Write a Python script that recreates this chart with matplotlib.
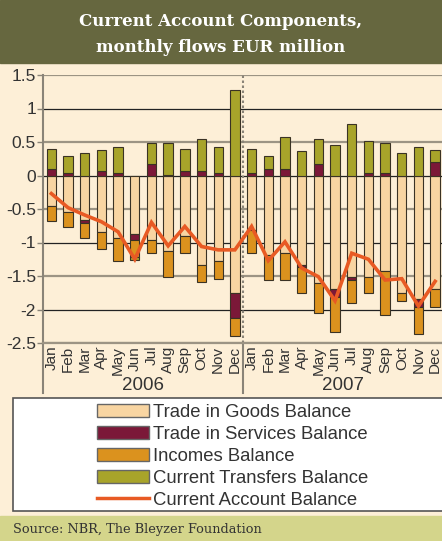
import numpy as np
import matplotlib
matplotlib.use('Agg')
import matplotlib.pyplot as plt
from matplotlib.patches import Rectangle, Patch
from matplotlib.lines import Line2D
import matplotlib.transforms as mtransforms

plt.rcParams['font.family'] = ['Liberation Sans', 'DejaVu Sans']

months = ['Jan', 'Feb', 'Mar', 'Apr', 'May', 'Jun',
          'Jul', 'Aug', 'Sep', 'Oct', 'Nov', 'Dec'] * 2
years = ['2006', '2007']

# EUR million (as shown on the chart axis), Jan 2006 .. Dec 2007
goods = [-0.45, -0.54, -0.67, -0.85, -0.94, -0.87, -0.97, -1.13, -0.91, -1.34, -1.28, -1.76,
         -0.81, -1.18, -1.15, -1.34, -1.61, -1.70, -1.51, -1.51, -1.42, -1.76, -1.84, -1.70]
services = [0.09, 0.03, -0.04, 0.06, 0.03, -0.10, 0.17, 0.01, 0.06, 0.06, 0.03, -0.37,
            0.03, 0.09, 0.09, -0.03, 0.17, -0.12, -0.05, 0.03, 0.03, 0.00, -0.12, 0.20]
incomes = [-0.23, -0.23, -0.23, -0.24, -0.33, -0.24, -0.19, -0.38, -0.25, -0.25, -0.26, -0.27,
           -0.35, -0.38, -0.41, -0.39, -0.44, -0.51, -0.35, -0.25, -0.66, -0.11, -0.40, -0.26]
transfers = [0.31, 0.26, 0.34, 0.32, 0.40, -0.05, 0.31, 0.48, 0.34, 0.48, 0.40, 1.28,
             0.37, 0.20, 0.48, 0.37, 0.37, 0.45, 0.77, 0.49, 0.45, 0.34, 0.43, 0.18]
current_account = [-0.27, -0.48, -0.59, -0.69, -0.84, -1.25, -0.70, -1.05, -0.76, -1.06, -1.11, -1.11,
                   -0.76, -1.27, -0.99, -1.38, -1.51, -1.87, -1.16, -1.25, -1.56, -1.54, -1.95, -1.58]

series = [
    ('Trade in Goods Balance', goods, '#F8D5A2'),
    ('Trade in Services Balance', services, '#7B1838'),
    ('Incomes Balance', incomes, '#DB921E'),
    ('Current Transfers Balance', transfers, '#A8A42A'),
]
line_color = '#E85A24'
cream = '#FDEFD7'
text_col = '#333333'

W, H = 442, 541
fig = plt.figure(figsize=(W / 100, H / 100), dpi=100, facecolor=cream)

# title band and source band
fig.patches.append(Rectangle((0, 1 - 63 / H), 1, 63 / H, transform=fig.transFigure,
                             color='#66673F', zorder=0))
fig.patches.append(Rectangle((0, 0), 1, 25 / H, transform=fig.transFigure,
                             color='#D4D58B', zorder=0))
fig.text(0.5, 1 - 22 / H, 'Current Account Components,', ha='center', va='center',
         color='white', fontsize=12, fontweight='bold', family='DejaVu Serif')
fig.text(0.5, 1 - 47 / H, 'monthly flows EUR million', ha='center', va='center',
         color='white', fontsize=12, fontweight='bold', family='DejaVu Serif')
fig.text(13 / W, 12 / H, 'Source: NBR, The Bleyzer Foundation', ha='left', va='center',
         color=text_col, fontsize=9.3, family='DejaVu Serif')

ax = fig.add_axes([43 / W, 198 / H, 400.5 / W, 268 / H])
ax.set_facecolor(cream)

x = np.arange(len(months))
pos = np.zeros(len(x))
neg = np.zeros(len(x))
for name, vals, col in series:
    v = np.array(vals)
    bottom = np.where(v >= 0, pos, neg)
    ax.bar(x, v, bottom=bottom, width=0.56, color=col, edgecolor='#3A3224',
           linewidth=0.8, zorder=3)
    pos = pos + np.where(v >= 0, v, 0)
    neg = neg + np.where(v < 0, v, 0)

ax.plot(x, current_account, color=line_color, lw=2.6, zorder=5, solid_joinstyle='miter')

ax.set_xlim(-0.5, 23.5)
ax.set_ylim(-2.5, 1.5)
yt = [1.5, 1, 0.5, 0, -0.5, -1, -1.5, -2, -2.5]
ax.set_yticks(yt)
ax.set_yticklabels(['1.5', '1', '0.5', '0', '-0.5', '-1', '-1.5', '-2', '-2.5'])
for v in yt:
    if float(v).is_integer():
        ax.axhline(v, color='#222222', lw=0.9, zorder=1)
    else:
        ax.axhline(v, color='#9C9484', lw=1.6, zorder=1)
ax.axvline(11.5, color='#8A8478', lw=1.5, ls=(0, (1.2, 1.2)), zorder=2)

ax.set_xticks(x)
ax.set_xticklabels(months, rotation=90, fontsize=11, color=text_col)
ax.tick_params(axis='x', length=0, pad=2)
ax.tick_params(axis='y', length=4, width=1, color='#8A8478', labelsize=12.5,
               labelcolor=text_col, pad=1)
for s in ['top', 'right']:
    ax.spines[s].set_visible(False)
ax.spines['left'].set_color('#8A8478')
ax.spines['left'].set_linewidth(1.5)
ax.spines['bottom'].set_color('#9C9484')
ax.spines['bottom'].set_linewidth(1.6)

# year group separators and labels below the axis
trans = mtransforms.blended_transform_factory(ax.transData, ax.transAxes)
for xs in [-0.5, 11.5, 23.5]:
    ax.plot([xs, xs], [0, -50 / 268], transform=trans, color='#8A8478', lw=1.5,
            clip_on=False)
for i, yr in enumerate(years):
    ax.text(5.5 + 12 * i, -43 / 268, yr, transform=trans, ha='center', va='center',
            fontsize=13.5, color=text_col)

# legend
fig.patches.append(Rectangle((13 / W, 1 - 511 / H), 440 / W, 113 / H,
                             transform=fig.transFigure, facecolor='white',
                             edgecolor='#555555', lw=1.2, zorder=1))
handles = [Patch(facecolor=col, edgecolor='#666666', lw=1.0) for _, _, col in series]
handles.append(Line2D([], [], color=line_color, lw=2.5))
labels = [n for n, _, _ in series] + ['Current Account Balance']
leg = fig.legend(handles, labels, loc='upper left', bbox_to_anchor=(97 / W, 1 - 404 / H),
                 frameon=False, fontsize=13.3, handlelength=2.8, handleheight=0.7,
                 handletextpad=0.25, labelspacing=0.27, borderpad=0, borderaxespad=0)
for t in leg.get_texts():
    t.set_color(text_col)
leg.set_zorder(2)

fig.savefig('out.png', dpi=100, facecolor=cream)
